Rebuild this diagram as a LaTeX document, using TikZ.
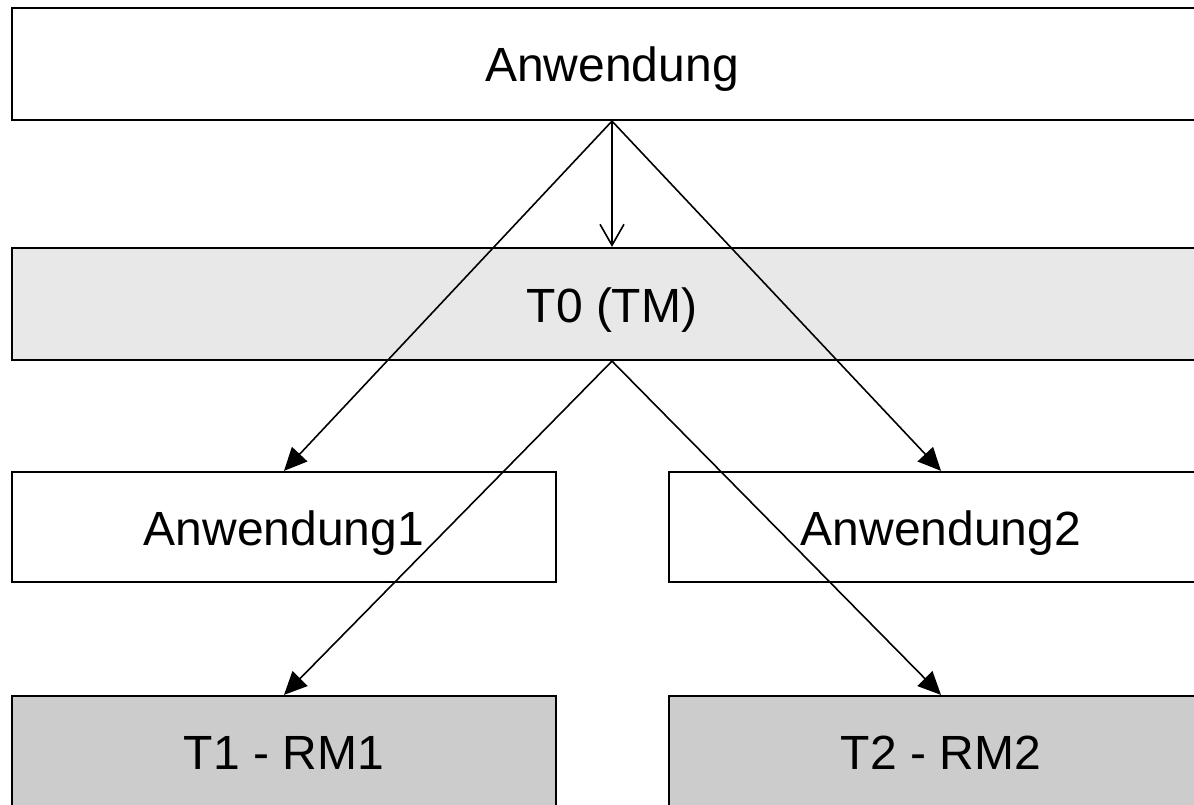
\documentclass[tikz,border=0pt]{standalone}
\usepackage{fontspec}
\setmainfont{Liberation Sans}
\usetikzlibrary{arrows.meta}
\definecolor{tmgray}{HTML}{E8E8E8}
\definecolor{rmgray}{HTML}{CCCCCC}
\begin{document}
\begin{tikzpicture}[x=1bp,y=-1bp,
  box/.style={draw=black, line width=2.2bp, rectangle, inner sep=0pt,
    text height=36bp, text depth=0bp,
    font=\fontsize{48bp}{58bp}\selectfont},
  wide/.style={box, minimum width=1200bp, minimum height=112bp},
  half/.style={box, minimum width=544bp, minimum height=110bp},
  link/.style={line width=1.6bp, -{Triangle[length=23bp,width=21bp]}},
  openlink/.style={line width=1.6bp, -{Straight Barb[length=21bp,width=24bp]}}]
  \useasboundingbox (0,0) rectangle (1194,805);
  \clip (0,0) rectangle (1194,805);
  \fill[white] (0,0) rectangle (1194,805);

  % application layer and transaction manager
  \node[wide, fill=white] (app) at (612,64) {Anwendung};
  \node[wide, fill=tmgray] (tm) at (612,304) {T0 (TM)};

  % sub-applications
  \node[half, fill=white] (app1) at (284,527) {Anwendung1};
  \node[half, fill=white] (app2) at (941,527) {Anwendung2};

  % resource managers
  \node[half, fill=rmgray] (rm1) at (284,751) {T1 - RM1};
  \node[half, fill=rmgray] (rm2) at (941,751) {T2 - RM2};

  % connectors
  \draw[openlink] (app.south) -- (tm.north);
  \draw[link] (app.south) -- (app1.north);
  \draw[link] (app.south) -- (app2.north);
  \draw[link] (tm.south) -- (rm1.north);
  \draw[link] (tm.south) -- (rm2.north);
\end{tikzpicture}
\end{document}
